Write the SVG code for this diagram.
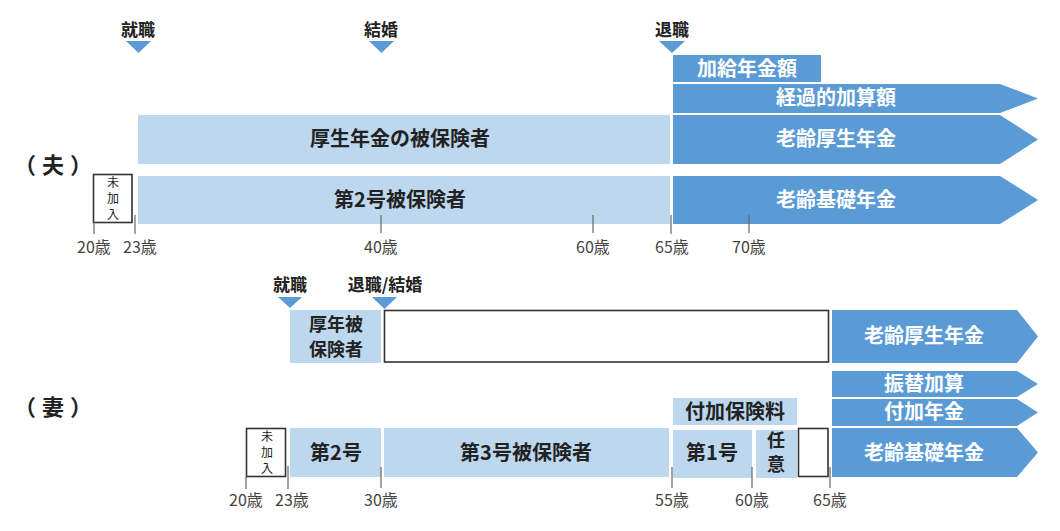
<svg xmlns="http://www.w3.org/2000/svg" width="1060" height="531" viewBox="0 0 1060 531">
<style>
text{font-family:"Noto Sans CJK JP","Noto Sans",sans-serif;}
.lb{fill:#BDD7EE;}
.db{fill:#5B9BD5;}
.wb{fill:#fff;stroke:#333;stroke-width:1.6;}
.tri{fill:#5B9BD5;}
.t{font-size:20px;font-weight:bold;fill:#222;text-anchor:middle;}
.t2{font-size:18px;font-weight:bold;fill:#222;text-anchor:middle;}
.tw{font-size:20px;font-weight:bold;fill:#fff;text-anchor:middle;}
.ev{font-size:17px;font-weight:bold;fill:#222;text-anchor:middle;}
.sm{font-size:12px;fill:#222;text-anchor:middle;}
.age{font-size:16px;fill:#444;text-anchor:middle;}
.tick{stroke:#666;stroke-width:1.2;}
.who{font-size:22px;font-weight:bold;fill:#222;letter-spacing:6px;}
</style>

<!-- Husband -->
<text class="who" x="14" y="173">（夫）</text>

<g id="ev-h-shushoku"><text class="ev" x="138" y="36">就職</text><polygon class="tri" points="126,41 151,41 138.5,53"/></g>
<g id="ev-h-kekkon"><text class="ev" x="381" y="36">結婚</text><polygon class="tri" points="369,41 394,41 381.5,53"/></g>
<g id="ev-h-taishoku"><text class="ev" x="672" y="36">退職</text><polygon class="tri" points="659,41 685,41 672,53"/></g>

<g id="h-kakyu"><rect class="db" x="673" y="55" width="148" height="27"/><text class="tw" x="747" y="76">加給年金額</text></g>
<g id="h-keika"><polygon class="db" points="673,84 1000,84 1038,98.5 1000,113 673,113"/><text class="tw" x="836" y="105">経過的加算額</text></g>
<g id="h-kosei-hi"><rect class="lb" x="138" y="115" width="532" height="49"/><text class="t" x="400" y="146">厚生年金の被保険者</text></g>
<g id="h-rorei-kosei"><polygon class="db" points="673,115 1000,115 1038,139.5 1000,164 673,164"/><text class="tw" x="836" y="146">老齢厚生年金</text></g>
<g id="h-mikanyu"><rect class="wb" x="93.5" y="174.5" width="38.5" height="48"/><text class="sm" x="113" y="187">未</text><text class="sm" x="113" y="203">加</text><text class="sm" x="113" y="219">入</text></g>
<g id="h-dai2"><rect class="lb" x="138" y="176" width="532" height="48"/><text class="t" x="400" y="207">第2号被保険者</text></g>
<g id="h-rorei-kiso"><polygon class="db" points="673,176 1000,176 1038,200 1000,224 673,224"/><text class="tw" x="836" y="207">老齢基礎年金</text></g>

<g id="h-ticks">
<line class="tick" x1="94" y1="222" x2="94" y2="234"/>
<line class="tick" x1="135" y1="215" x2="135" y2="234"/>
<line class="tick" x1="381" y1="215" x2="381" y2="233"/>
<line class="tick" x1="593" y1="215" x2="593" y2="233"/>
<line class="tick" x1="671" y1="215" x2="671" y2="234"/>
<line class="tick" x1="749" y1="215" x2="749" y2="233"/>
</g>
<g id="h-ages">
<text class="age" x="94" y="253">20歳</text>
<text class="age" x="140" y="253">23歳</text>
<text class="age" x="381" y="253">40歳</text>
<text class="age" x="593" y="253">60歳</text>
<text class="age" x="672" y="253">65歳</text>
<text class="age" x="749" y="253">70歳</text>
</g>

<!-- Wife -->
<text class="who" x="14" y="415">（妻）</text>

<g id="ev-w-shushoku"><text class="ev" x="290" y="291">就職</text><polygon class="tri" points="278,297 302,297 290,308"/></g>
<g id="ev-w-taishoku"><text class="ev" x="385" y="291">退職/結婚</text><polygon class="tri" points="372,297 397,297 384.5,309"/></g>

<g id="w-konen"><rect class="lb" x="290" y="310" width="91" height="53"/><text class="t2" x="336" y="331">厚年被</text><text class="t2" x="336" y="356">保険者</text></g>
<g id="w-blank1"><rect class="wb" x="384.5" y="310.5" width="444" height="51.5"/></g>
<g id="w-rorei-kosei"><polygon class="db" points="832,310 1017,310 1038,336.5 1017,363 832,363"/><text class="tw" x="924" y="343">老齢厚生年金</text></g>
<g id="w-furikae"><polygon class="db" points="832,371 1017,371 1038,384 1017,397 832,397"/><text class="tw" x="924" y="391">振替加算</text></g>
<g id="w-fuka-nenkin"><polygon class="db" points="832,399 1017,399 1038,412.5 1017,426 832,426"/><text class="tw" x="924" y="419">付加年金</text></g>
<g id="w-fuka-hoken"><rect class="lb" x="673" y="398" width="124" height="27"/><text class="t" x="735" y="419">付加保険料</text></g>
<g id="w-mikanyu"><rect class="wb" x="246.5" y="428.5" width="39" height="48"/><text class="sm" x="267" y="441">未</text><text class="sm" x="267" y="457">加</text><text class="sm" x="267" y="473">入</text></g>
<g id="w-dai2"><rect class="lb" x="290" y="428" width="91" height="49"/><text class="t" x="336" y="460">第2号</text></g>
<g id="w-dai3"><rect class="lb" x="384" y="428" width="285" height="49"/><text class="t" x="526" y="460">第3号被保険者</text></g>
<g id="w-dai1"><rect class="lb" x="673" y="430" width="79" height="48"/><text class="t" x="712" y="460">第1号</text></g>
<g id="w-nini"><rect class="lb" x="756" y="430" width="41" height="48"/><text class="t2" x="776" y="447">任</text><text class="t2" x="776" y="471">意</text></g>
<g id="w-blank2"><rect class="wb" x="798.5" y="428.5" width="29.5" height="48"/></g>
<g id="w-rorei-kiso"><polygon class="db" points="832,428 1017,428 1038,452.5 1017,477 832,477"/><text class="tw" x="924" y="460">老齢基礎年金</text></g>

<g id="w-ticks">
<line class="tick" x1="246" y1="477" x2="246" y2="489"/>
<line class="tick" x1="288" y1="466" x2="288" y2="489"/>
<line class="tick" x1="381" y1="467" x2="381" y2="488"/>
<line class="tick" x1="672" y1="467" x2="672" y2="488"/>
<line class="tick" x1="752" y1="467" x2="752" y2="488"/>
<line class="tick" x1="830" y1="467" x2="830" y2="488"/>
</g>
<g id="w-ages">
<text class="age" x="246" y="506">20歳</text>
<text class="age" x="292" y="506">23歳</text>
<text class="age" x="381" y="506">30歳</text>
<text class="age" x="672" y="506">55歳</text>
<text class="age" x="752" y="506">60歳</text>
<text class="age" x="830" y="506">65歳</text>
</g>
</svg>
